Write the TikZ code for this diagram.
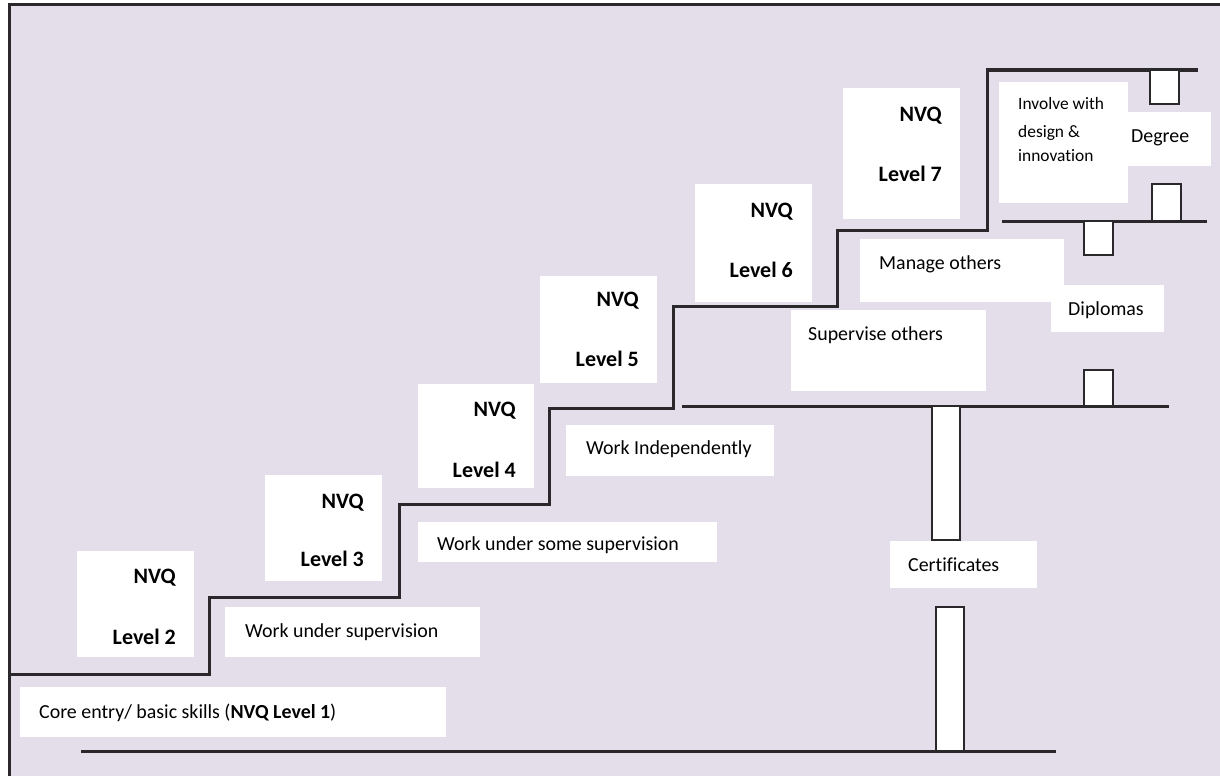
\documentclass[tikz,border=0pt]{standalone}
\usepackage{fontspec}
\setmainfont{Carlito}[Ligatures=NoCommon]
\definecolor{lilac}{HTML}{E4DEEB}
\definecolor{ink}{HTML}{2B282C}
% white panel / outlined slot given by its two corners (x1,y1) (x2,y2)
\newcommand\panel[6]{%
  \node[#1, minimum width={(#5-#3)*1pt}, minimum height={(#6-#4)*1pt}] (#2) at (#3,#4) {};}
\begin{document}
\begin{tikzpicture}[x=1pt,y=-1pt,
  wbox/.style={fill=white, draw=none, inner sep=0pt, outer sep=0pt, anchor=north west},
  slot/.style={fill=white, draw=ink, line width=2.2pt, inner sep=0pt, outer sep=0pt, anchor=north west},
  rule/.style={draw=ink, line width=3pt},
  txt/.style={inner sep=0pt, anchor=base west, font=\fontsize{19.9}{24}\selectfont},
  small/.style={inner sep=0pt, anchor=base west, font=\fontsize{17.4}{21}\selectfont},
  lvl/.style={inner sep=0pt, anchor=base east, font=\fontsize{22}{26}\selectfont\bfseries}
]
\useasboundingbox (0,0) rectangle (1220,776);
\fill[white] (0,0) rectangle (1220,776);
% background panel with its top and left frame
\fill[lilac] (9,5) rectangle (1220,776);
\draw[ink, line width=3pt] (9,776) -- (9,5) -- (1220,5);

% text panels
\panel{wbox}{core}{20}{687}{446}{737}
\panel{wbox}{undersup}{225}{607}{480}{657}
\panel{wbox}{somesup}{418}{522}{717}{562}
\panel{wbox}{indep}{566}{425}{774}{476}
\panel{wbox}{supv}{791}{310}{986}{391}
\panel{wbox}{manage}{860}{239}{1064}{302}
\panel{wbox}{dipl}{1051}{285}{1164}{332}
\panel{wbox}{cert}{890}{541}{1037}{588}
\panel{wbox}{design}{999}{82}{1128}{203}
\panel{wbox}{degree}{1128}{112}{1211}{166}
% NVQ level panels
\panel{wbox}{b2}{77}{551}{194}{657}
\panel{wbox}{b3}{265}{475}{382}{581}
\panel{wbox}{b4}{418}{384}{534}{488}
\panel{wbox}{b5}{540}{276}{657}{383}
\panel{wbox}{b6}{695}{184}{812}{302}
\panel{wbox}{b7}{843}{88}{960}{219}

% staircase
\draw[rule] (9,674) -- (209,674) -- (209,597) -- (399,597) -- (399,504)
  -- (549,504) -- (549,408) -- (673,408) -- (673,306) -- (837,306)
  -- (837,230) -- (987,230) -- (987,70) -- (1198,70);
% qualification ladder rails
\draw[rule] (81,751) -- (1056,751);
\draw[rule] (682,406) -- (1169,406);
\draw[rule] (1002,221) -- (1207,221);

% slots on the rails
\panel{slot}{s1}{1150}{70}{1179}{104}
\panel{slot}{s2}{1152}{184}{1181}{221}
\panel{slot}{s3}{1084}{221}{1113}{255}
\panel{slot}{s4}{1084}{370}{1113}{406}
\panel{slot}{s5}{932}{406}{960}{540}
\panel{slot}{s6}{936}{607}{964}{751}

% labels
\node[txt] (tcore) at (39,718) {Core entry/ basic skills (\textbf{NVQ Level 1})};
\node[txt] (tundersup) at (245,637) {Work under supervision};
\node[txt] (tsomesup) at (437,550) {Work under some supervision};
\node[txt] (tindep) at (586,454) {Work Independently};
\node[txt] (tsupv) at (808,340) {Supervise others};
\node[txt] (tmanage) at (879,269) {Manage others};
\node[txt] (tdipl) at (1068,315) {Diplomas};
\node[txt] (tcert) at (908,571) {Certificates};
\node[txt] (tdegree) at (1131,142) {Degree};
\node[small] (tdes1) at (1018,109) {Involve with};
\node[small] (tdes2) at (1018,137) {design \&};
\node[small] (tdes3) at (1018,161) {innovation};

\node[lvl] (n2) at (176,583) {NVQ};
\node[lvl] (l2) at (176,644) {Level 2};
\node[lvl] (n3) at (364,508) {NVQ};
\node[lvl] (l3) at (364,566) {Level 3};
\node[lvl] (n4) at (516,416) {NVQ};
\node[lvl] (l4) at (516,477) {Level 4};
\node[lvl] (n5) at (639,306) {NVQ};
\node[lvl] (l5) at (639,366) {Level 5};
\node[lvl] (n6) at (793,217) {NVQ};
\node[lvl] (l6) at (793,277) {Level 6};
\node[lvl] (n7) at (942,121) {NVQ};
\node[lvl] (l7) at (942,181) {Level 7};
\end{tikzpicture}
\end{document}
